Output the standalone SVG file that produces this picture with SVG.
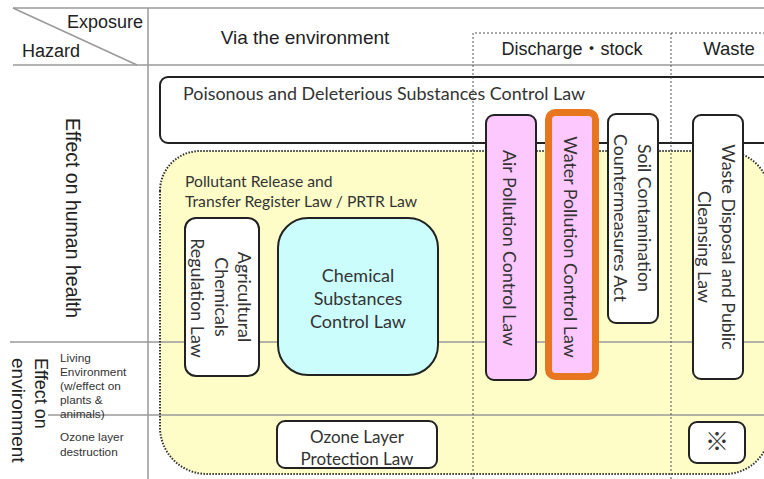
<svg xmlns="http://www.w3.org/2000/svg" width="764" height="479" viewBox="0 0 764 479">
  <defs>
    <style>
      .grid { stroke: #9a9a9a; stroke-width: 1.5; fill: none; }
      .col { stroke: #555; stroke-width: 1; stroke-dasharray: 2 2; fill: none; }
      .hdr { font-family: "Liberation Sans", Arial, "Noto Sans CJK JP", sans-serif; fill: #222; }
      .side { font-family: "Liberation Sans", Arial, sans-serif; fill: #333; }
      .lbl { font-family: Lato, "Open Sans", sans-serif; fill: #333; }
      .law { fill: #fff; stroke: #222; stroke-width: 2; }
      .pink { fill: #fdc8fd; stroke: #222; stroke-width: 2; }
      .vt { font-family: Lato, "Open Sans", sans-serif; fill: #333; font-size: 17.8px; text-anchor: middle; dominant-baseline: central; }
    </style>
  </defs>

  <rect width="764" height="479" fill="#fff"/>

  <!-- PRTR area: yellow field with dotted rim -->
  <path id="prtr-area" d="M160,191 A40,40 0 0 1 200,151 H725 A45,45 0 0 1 770,196 V429 A45,45 0 0 1 725,474 H207 A47,47 0 0 1 160,427 Z" fill="#fefdc8"/>

  <!-- table rules -->
  <g id="grid">
    <line class="grid" x1="13" y1="8" x2="764" y2="8"/>
    <line class="grid" x1="13" y1="65" x2="764" y2="65"/>
    <line class="grid" x1="13" y1="8" x2="137" y2="65"/>
    <line class="grid" x1="148" y1="8" x2="148" y2="479"/>
    <line class="grid" x1="10" y1="342" x2="764" y2="342"/>
    <line class="grid" x1="48" y1="415" x2="764" y2="415"/>
  </g>

  <!-- Poisonous and Deleterious Substances Control Law -->
  <g id="poisonous">
    <rect class="law" x="160" y="77" width="650" height="66" rx="8"/>
    <text class="lbl" x="183" y="100" font-size="17.9">Poisonous and Deleterious Substances Control Law</text>
  </g>

  <!-- dotted column dividers -->
  <g id="columns">
    <polyline class="col" points="473,479 473,33 764,33"/>
    <line class="col" x1="671" y1="33" x2="671" y2="479"/>
  </g>

  <path d="M160,191 A40,40 0 0 1 200,151 H725 A45,45 0 0 1 770,196 V429 A45,45 0 0 1 725,474 H207 A47,47 0 0 1 160,427 Z" fill="none" stroke="#333" stroke-width="2" stroke-dasharray="1.5 1.5"/>

  <!-- headings -->
  <g id="headings">
    <text class="hdr" x="143" y="28" font-size="18" text-anchor="end">Exposure</text>
    <text class="hdr" x="22" y="57" font-size="18">Hazard</text>
    <text class="hdr" x="305" y="44" font-size="19" text-anchor="middle">Via the environment</text>
    <text class="hdr" x="572" y="55" font-size="18" text-anchor="middle">Discharge・stock</text>
    <text class="hdr" x="729" y="55" font-size="18.5" text-anchor="middle">Waste</text>
    <text class="hdr" font-size="19.5" text-anchor="middle" dominant-baseline="central" transform="translate(73,218) rotate(90)">Effect on human health</text>
    <text class="hdr" font-size="18" dominant-baseline="central" transform="translate(41,358) rotate(90)">Effect on</text>
    <text class="hdr" font-size="19" dominant-baseline="central" transform="translate(18,358) rotate(90)">environment</text>
    <g class="side" font-size="11.8">
      <text x="60" y="362">Living</text>
      <text x="60" y="376">Environment</text>
      <text x="60" y="390">(w/effect on</text>
      <text x="60" y="404">plants &amp;</text>
      <text x="60" y="418">animals)</text>
      <text x="60" y="441">Ozone layer</text>
      <text x="60" y="456">destruction</text>
    </g>
  </g>

  <g id="prtr-label">
    <text class="lbl" x="185" y="187" font-size="15.7">Pollutant Release and</text>
    <text class="lbl" x="185" y="207" font-size="15.7">Transfer Register Law / PRTR Law</text>
  </g>

  <g id="agricultural">
    <rect class="law" x="185" y="218" width="74" height="158" rx="11"/>
    <text class="vt" transform="translate(245,297) rotate(90)">Agricultural</text>
    <text class="vt" transform="translate(222,297) rotate(90)">Chemicals</text>
    <text class="vt" transform="translate(198,298) rotate(90)">Regulation Law</text>
  </g>

  <g id="chemical">
    <rect x="278" y="218" width="160" height="157" rx="30" fill="#cbfdfd" stroke="#222" stroke-width="2"/>
    <g class="lbl" font-size="18" text-anchor="middle">
      <text x="358" y="282">Chemical</text>
      <text x="358" y="305">Substances</text>
      <text x="358" y="328">Control Law</text>
    </g>
  </g>

  <g id="air">
    <rect class="pink" x="486" y="115" width="50" height="265" rx="8"/>
    <text class="vt" transform="translate(510,248) rotate(90)">Air Pollution Control Law</text>
  </g>

  <g id="water">
    <rect x="548.5" y="112.5" width="47" height="264" rx="7" fill="#fdc8fd" stroke="#e8761e" stroke-width="7"/>
    <text class="vt" transform="translate(571,247) rotate(90)">Water Pollution Control Law</text>
  </g>

  <g id="soil">
    <rect class="law" x="608" y="114" width="50" height="209" rx="8"/>
    <text class="vt" transform="translate(645,218) rotate(90)">Soil Contamination</text>
    <text class="vt" transform="translate(621,218) rotate(90)">Countermeasures Act</text>
  </g>

  <g id="waste">
    <rect class="law" x="693" y="115" width="50" height="264" rx="8"/>
    <text class="vt" transform="translate(729,247) rotate(90)">Waste Disposal and Public</text>
    <text class="vt" transform="translate(705,247) rotate(90)">Cleansing Law</text>
  </g>

  <g id="ozone">
    <rect class="law" x="277" y="421" width="160" height="47" rx="8"/>
    <g class="lbl" font-size="17" text-anchor="middle">
      <text x="357" y="443">Ozone Layer</text>
      <text x="357" y="465">Protection Law</text>
    </g>
  </g>

  <g id="note">
    <rect class="law" x="689" y="422" width="56" height="41" rx="8"/>
    <text x="717" y="450" font-size="24" text-anchor="middle" fill="#333" font-family="'Noto Sans CJK JP', sans-serif">※</text>
  </g>
</svg>
